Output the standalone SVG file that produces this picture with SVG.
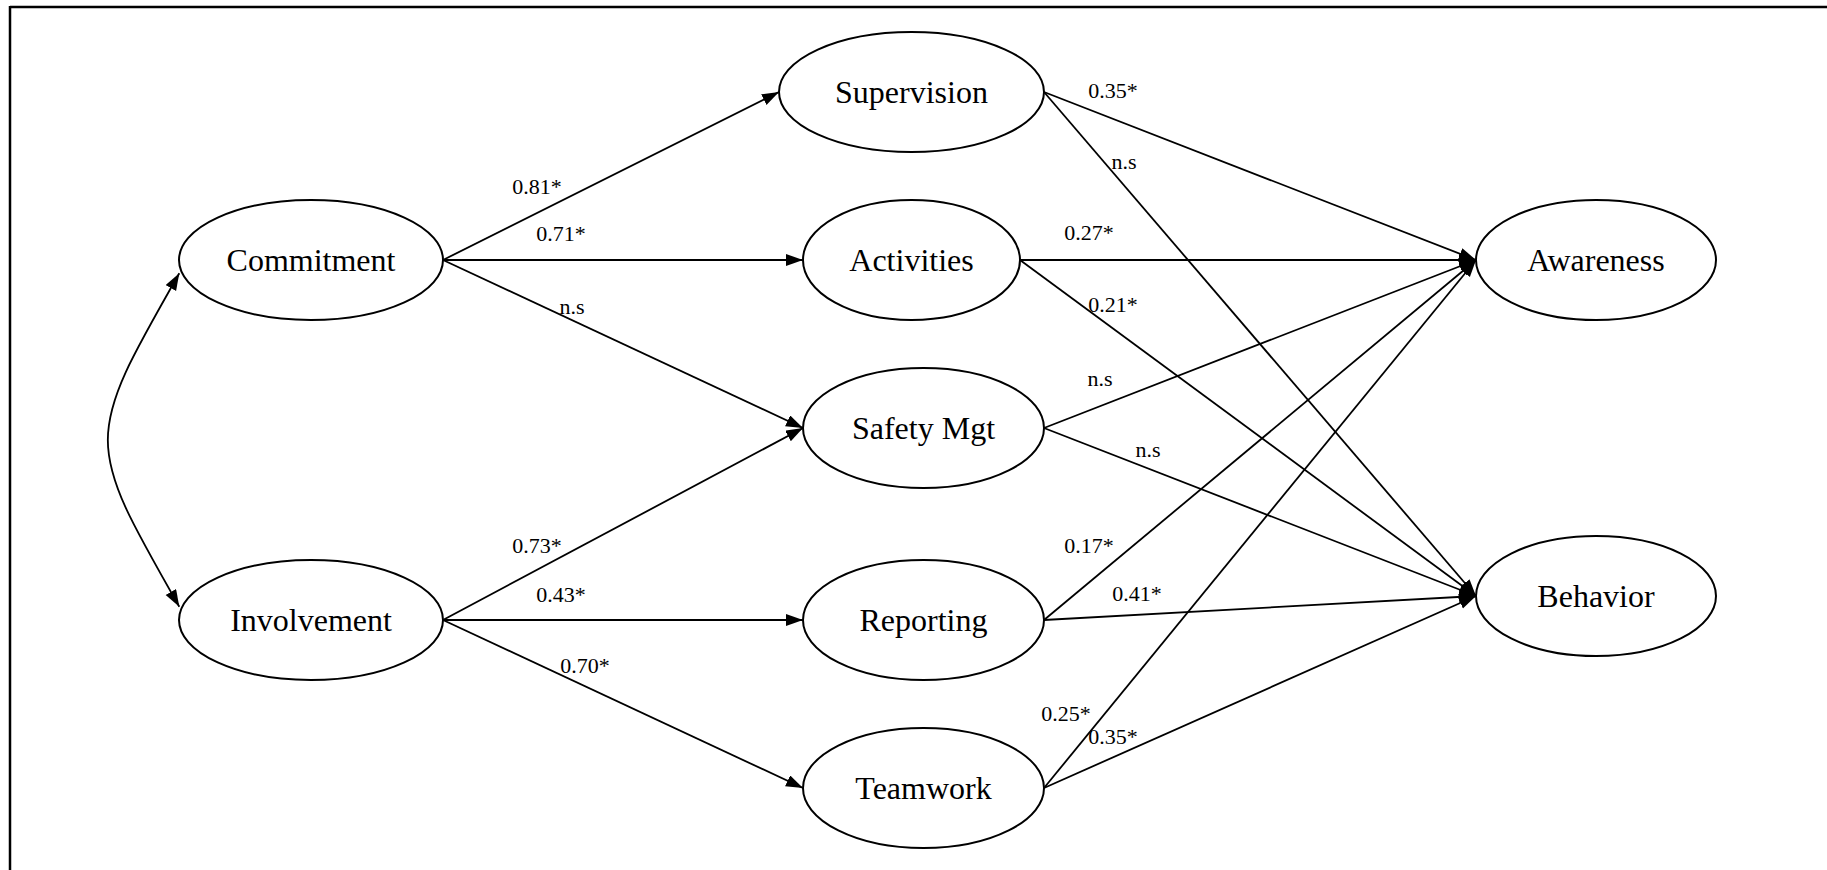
<svg xmlns="http://www.w3.org/2000/svg" width="1827" height="870" viewBox="0 0 1827 870">
<style>
.node ellipse{fill:#fff;stroke:#000;stroke-width:2}
.node text{font-family:"Liberation Serif","Times New Roman",serif;font-size:32px;fill:#000;text-anchor:middle}
.edge{stroke:#000;stroke-width:1.8;fill:none}
.lbl{font-family:"Liberation Serif","Times New Roman",serif;font-size:22px;fill:#000;text-anchor:middle}
</style>
<defs>
<marker id="ah" markerUnits="userSpaceOnUse" markerWidth="18" markerHeight="14" refX="17" refY="6" orient="auto">
<path d="M0,0 L17,6 L0,12 z" fill="#000"/>
</marker>
<marker id="ahs" markerUnits="userSpaceOnUse" markerWidth="18" markerHeight="14" refX="17" refY="6" orient="auto-start-reverse">
<path d="M0,0 L17,6 L0,12 z" fill="#000"/>
</marker>
</defs>
<rect width="1827" height="870" fill="#fff"/>
<g id="frame" stroke="#000" stroke-width="2.5">
<line x1="10" y1="7" x2="1827" y2="7"/>
<line x1="10" y1="6" x2="10" y2="870"/>
</g>
<g id="connectors">
<path class="edge" d="M179.3,273.3 C84,440 84,440 179.3,606.7" marker-start="url(#ahs)" marker-end="url(#ah)"/>
<line class="edge" x1="443" y1="260" x2="779" y2="92" marker-end="url(#ah)"/>
<line class="edge" x1="443" y1="260" x2="803" y2="260" marker-end="url(#ah)"/>
<line class="edge" x1="443" y1="260" x2="803" y2="428" marker-end="url(#ah)"/>
<line class="edge" x1="443" y1="620" x2="803" y2="428" marker-end="url(#ah)"/>
<line class="edge" x1="443" y1="620" x2="803" y2="620" marker-end="url(#ah)"/>
<line class="edge" x1="443" y1="620" x2="803" y2="788" marker-end="url(#ah)"/>
<line class="edge" x1="1044" y1="92" x2="1476" y2="260" marker-end="url(#ah)"/>
<line class="edge" x1="1044" y1="92" x2="1476" y2="596" marker-end="url(#ah)"/>
<line class="edge" x1="1020" y1="260" x2="1476" y2="260" marker-end="url(#ah)"/>
<line class="edge" x1="1020" y1="260" x2="1476" y2="596" marker-end="url(#ah)"/>
<line class="edge" x1="1044" y1="428" x2="1476" y2="260" marker-end="url(#ah)"/>
<line class="edge" x1="1044" y1="428" x2="1476" y2="596" marker-end="url(#ah)"/>
<line class="edge" x1="1044" y1="620" x2="1476" y2="260" marker-end="url(#ah)"/>
<line class="edge" x1="1044" y1="620" x2="1476" y2="596" marker-end="url(#ah)"/>
<line class="edge" x1="1044" y1="788" x2="1476" y2="260" marker-end="url(#ah)"/>
<line class="edge" x1="1044" y1="788" x2="1476" y2="596" marker-end="url(#ah)"/>
</g>
<g id="labels">
<text class="lbl" x="537" y="194">0.81*</text>
<text class="lbl" x="561" y="241">0.71*</text>
<text class="lbl" x="572" y="314">n.s</text>
<text class="lbl" x="537" y="553">0.73*</text>
<text class="lbl" x="561" y="602">0.43*</text>
<text class="lbl" x="585" y="673">0.70*</text>
<text class="lbl" x="1113" y="98">0.35*</text>
<text class="lbl" x="1124" y="169">n.s</text>
<text class="lbl" x="1089" y="240">0.27*</text>
<text class="lbl" x="1113" y="312">0.21*</text>
<text class="lbl" x="1100" y="386">n.s</text>
<text class="lbl" x="1148" y="457">n.s</text>
<text class="lbl" x="1089" y="553">0.17*</text>
<text class="lbl" x="1137" y="601">0.41*</text>
<text class="lbl" x="1066" y="721">0.25*</text>
<text class="lbl" x="1113" y="744">0.35*</text>
</g>
<g id="n-commitment" class="node"><ellipse cx="311" cy="260" rx="132" ry="60"/><text x="311" y="271">Commitment</text></g>
<g id="n-involvement" class="node"><ellipse cx="311" cy="620" rx="132" ry="60"/><text x="311" y="631">Involvement</text></g>
<g id="n-supervision" class="node"><ellipse cx="911.5" cy="92" rx="132.5" ry="60"/><text x="911.5" y="103">Supervision</text></g>
<g id="n-activities" class="node"><ellipse cx="911.5" cy="260" rx="108.5" ry="60"/><text x="911.5" y="271">Activities</text></g>
<g id="n-safety" class="node"><ellipse cx="923.5" cy="428" rx="120.5" ry="60"/><text x="923.5" y="439">Safety Mgt</text></g>
<g id="n-reporting" class="node"><ellipse cx="923.5" cy="620" rx="120.5" ry="60"/><text x="923.5" y="631">Reporting</text></g>
<g id="n-teamwork" class="node"><ellipse cx="923.5" cy="788" rx="120.5" ry="60"/><text x="923.5" y="799">Teamwork</text></g>
<g id="n-awareness" class="node"><ellipse cx="1596" cy="260" rx="120" ry="60"/><text x="1596" y="271">Awareness</text></g>
<g id="n-behavior" class="node"><ellipse cx="1596" cy="596" rx="120" ry="60"/><text x="1596" y="607">Behavior</text></g>
</svg>
